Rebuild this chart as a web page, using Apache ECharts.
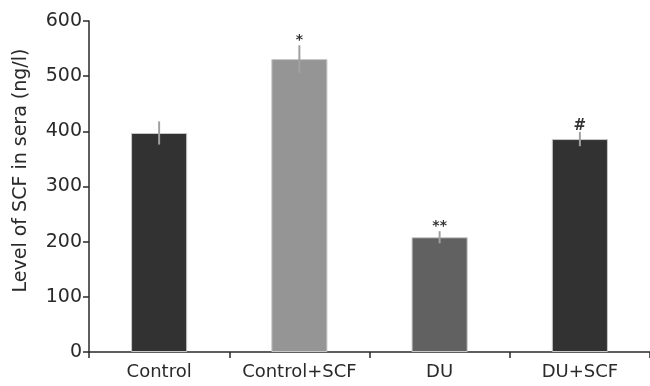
<!DOCTYPE html>
<html>
<head>
<meta charset="utf-8">
<script src="https://cdn.jsdelivr.net/npm/echarts@6/dist/echarts.min.js"></script>
<style>html,body{margin:0;padding:0;background:#fff}#c{width:650px;height:386px}</style>
</head>
<body>
<div id="c"></div>
<script>
var categories = ['Control', 'Control+SCF', 'DU', 'DU+SCF'];
var values = [397, 531, 208, 386];
var errors = [21, 25, 11, 13];
var marks = ['', '*', '**', '#'];
var barColors = ['#323232', '#959595', '#616161', '#323232'];
var yTicks = [0, 100, 200, 300, 400, 500, 600];

var chart = echarts.init(document.getElementById('c'));
var font = 'DejaVu Sans, Liberation Sans, sans-serif';
chart.setOption({
  animation: false,
  grid: {left: 89, right: 0, top: 21, bottom: 34},
  xAxis: {
    type: 'category',
    data: categories,
    axisLine: {lineStyle: {color: '#2a2a2a', width: 1.5}},
    axisTick: {show: true, length: 6, lineStyle: {color: '#2a2a2a', width: 1.5}},
    axisLabel: {color: '#2a2a2a', fontSize: 18, fontFamily: font, margin: 11, interval: 0}
  },
  yAxis: {
    type: 'value',
    min: yTicks[0], max: yTicks[yTicks.length - 1], interval: 100,
    name: 'Level of SCF in sera (ng/l)',
    nameLocation: 'middle',
    nameGap: 58,
    nameTextStyle: {color: '#2a2a2a', fontSize: 19, fontFamily: font, padding: [0, 0, 0, 32]},
    axisLine: {show: true, lineStyle: {color: '#2a2a2a', width: 1.5}},
    axisTick: {show: true, length: 6, lineStyle: {color: '#2a2a2a', width: 1.5}},
    axisLabel: {color: '#2a2a2a', fontSize: 19, fontFamily: font, margin: 7},
    splitLine: {show: false}
  },
  series: [
    {
      type: 'bar',
      barWidth: '40%',
      data: values.map(function (v, i) {
        return {value: v, itemStyle: {color: barColors[i], borderColor: '#c8c8c8', borderWidth: 1}};
      }),
      z: 2
    },
    {
      type: 'custom',
      z: 3,
      data: values.map(function (v, i) { return [i, v - errors[i], v + errors[i], marks[i]]; }),
      renderItem: function (params, api) {
        var lo = api.coord([api.value(0), api.value(1)]);
        var hi = api.coord([api.value(0), api.value(2)]);
        var children = [{
          type: 'line',
          shape: {x1: hi[0], y1: hi[1], x2: lo[0], y2: lo[1]},
          style: {stroke: '#a0a0a0', lineWidth: 2}
        }];
        var m = marks[params.dataIndex];
        if (m) {
          children.push({
            type: 'text',
            style: {
              text: m, x: hi[0], y: hi[1] + 2, align: 'center', verticalAlign: 'bottom',
              fill: '#333', font: (m === '#' ? 'bold 15px ' : 'bold 14px ') + font
            }
          });
        }
        return {type: 'group', children: children};
      }
    }
  ]
});
</script>
</body>
</html>
